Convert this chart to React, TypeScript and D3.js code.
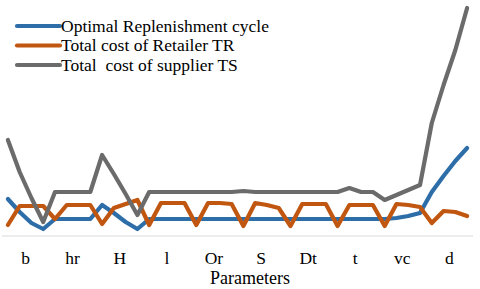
import React from "react";
import * as d3 from "d3";

const categories = ["b", "hr", "H", "l", "Or", "S", "Dt", "t", "vc", "d"];
const pointsPerCategory = 4;

const replenishment = [
  37, 24, 13, 7, 17, 17, 17, 17, 31, 23, 14, 7, 17, 17, 17, 17, 17, 17, 17, 17,
  17, 17, 17, 17, 17, 17, 17, 17, 17, 17, 17, 17, 17, 18, 20, 23, 44, 60, 75, 88,
];
const retailerTR = [
  11, 30, 30, 30, 17, 31, 31, 31, 12, 28, 32, 36, 11, 33, 33, 33, 11, 33, 33, 32,
  10, 33, 31, 28, 10, 32, 32, 32, 10, 31, 31, 31, 10, 32, 31, 29, 13, 25, 24, 20,
];
const supplierTS = [
  96, 64, 38, 14, 44, 44, 44, 44, 81, 62, 42, 21, 44, 44, 44, 44, 44, 44, 44, 44,
  45, 44, 44, 44, 44, 44, 44, 44, 44, 48, 44, 44, 36, 41, 46, 51, 113, 151, 186, 228,
];

const seriesNames = [
  "Optimal Replenishment cycle",
  "Total cost of Retailer TR",
  "Total  cost of supplier TS",
];
const seriesColors = ["#2D6DA8", "#C0560F", "#6B6B6B"];
const xTitle = "Parameters";

const W = 480;
const H = 289;
const plotLeft = 2;
const plotRight = 473;
const axisY = 236;

export default function App() {
  const allSeries = [replenishment, retailerTR, supplierTS];
  const n = categories.length * pointsPerCategory;
  const idx = d3.range(n);
  const x = d3.scaleBand<number>().domain(idx).range([plotLeft, plotRight]);
  const xc = d3.scaleBand<string>().domain(categories).range([plotLeft, plotRight]);
  const y = d3.scaleLinear().domain([0, 230]).range([axisY, 6]);
  const line = d3
    .line<number>()
    .x((_, i) => (x(i) as number) + x.bandwidth() / 2)
    .y((d) => y(d));

  const font = "'Liberation Serif', 'Times New Roman', serif";
  const legendY = [26, 45.5, 65];

  return (
    <svg
      width={W}
      height={H}
      style={{ position: "absolute", left: 0, top: 0, background: "#fff" }}
    >
      <line x1={plotLeft} x2={plotRight} y1={axisY} y2={axisY} stroke="#d9d9d9" strokeWidth={1.2} />
      {allSeries.map((s, k) => (
        <path
          key={k}
          d={line(s) as string}
          fill="none"
          stroke={seriesColors[k]}
          strokeWidth={4.2}
          strokeLinejoin="round"
          strokeLinecap="round"
        />
      ))}
      {categories.map((c) => (
        <text
          key={c}
          x={(xc(c) as number) + xc.bandwidth() / 2}
          y={264}
          textAnchor="middle"
          fontFamily={font}
          fontSize={17.5}
          fill="#000"
        >
          {c}
        </text>
      ))}
      <text x={250} y={284} textAnchor="middle" fontFamily={font} fontSize={18} fill="#000">
        {xTitle}
      </text>
      {seriesNames.map((name, k) => (
        <g key={name}>
          <line
            x1={17}
            x2={60}
            y1={legendY[k]}
            y2={legendY[k]}
            stroke={seriesColors[k]}
            strokeWidth={4.2}
            strokeLinecap="round"
          />
          <text
            x={61}
            y={legendY[k] + 5.5}
            fontFamily={font}
            fontSize={17.5}
            fill="#000"
            style={{ whiteSpace: "pre" }}
          >
            {name}
          </text>
        </g>
      ))}
    </svg>
  );
}
